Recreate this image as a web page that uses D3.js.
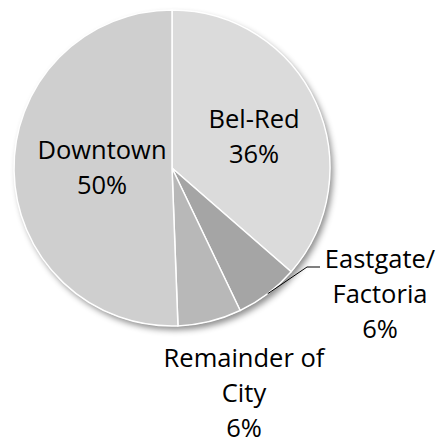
<!DOCTYPE html>
<html>
<head>
<meta charset="utf-8">
<script src="https://cdn.jsdelivr.net/npm/d3@7"></script>
<style>
  html, body { margin: 0; padding: 0; background: #fff; }
  svg { display: block; }
  text { font-family: "Open Sans", "Noto Sans", sans-serif; fill: #000; }
</style>
</head>
<body>
<div id="chart"></div>
<script>
// Data
const categories = ["Bel-Red", "Eastgate/Factoria", "Remainder of City", "Downtown"];
const shares = [36.4, 6.5, 6.5, 50.6];
const pctLabels = ["36%", "6%", "6%", "50%"];
const labelLines = [["Bel-Red"], ["Eastgate/", "Factoria"], ["Remainder of", "City"], ["Downtown"]];
const colors = ["#dbdbdb", "#a5a5a5", "#b8b8b8", "#cfcfcf"];

const width = 443, height = 444;
const cx = 172, cy = 168, radius = 158;
const fontSize = 25.5, lineH = 35;

const svg = d3.select("#chart").append("svg")
    .attr("width", width)
    .attr("height", height);

// soft drop shadow like the office chart
const defs = svg.append("defs");
const shadow = defs.append("filter")
    .attr("id", "shadow")
    .attr("x", "-20%").attr("y", "-20%")
    .attr("width", "140%").attr("height", "140%");
shadow.append("feDropShadow")
    .attr("dx", 3).attr("dy", 4)
    .attr("stdDeviation", 3)
    .attr("flood-color", "#000")
    .attr("flood-opacity", 0.45);

const pie = d3.pie().sort(null).value(d => d);
const arcs = pie(shares);

const arc = d3.arc().innerRadius(0).outerRadius(radius);
const rim = d3.arc().innerRadius(radius).outerRadius(radius);

const g = svg.append("g").attr("transform", `translate(${cx},${cy})`);

// shadow layer behind
g.append("circle")
    .attr("r", radius)
    .attr("fill", "#cfcfcf")
    .attr("filter", "url(#shadow)");

g.selectAll("path.slice")
    .data(arcs)
    .join("path")
    .attr("class", "slice")
    .attr("d", arc)
    .attr("fill", (d, i) => colors[i])
    .attr("stroke", "#fff")
    .attr("stroke-width", 1.5)
    .attr("stroke-linejoin", "round");

// label positions (centre of each text block, first baseline)
const labelPos = [
    { x: 254, y: 128 },
    { x: 380, y: 268 },
    { x: 244, y: 367 },
    { x: 102, y: 159 }
];

labelLines.forEach((lines, i) => {
    const all = lines.concat([pctLabels[i]]);
    const t = svg.append("text")
        .attr("text-anchor", "middle")
        .attr("font-size", fontSize);
    all.forEach((s, k) => {
        t.append("tspan")
            .attr("x", labelPos[i].x)
            .attr("y", labelPos[i].y + k * lineH)
            .text(s);
    });
});

// leader line for Eastgate/Factoria
const eg = arcs[1];
const [sx, sy] = rim.centroid(eg);
const ly = labelPos[1].y - 1;
const lxEnd = labelPos[1].x - 60;
svg.append("polyline")
    .attr("points", [
        [cx + sx, cy + sy],
        [lxEnd - 13, ly],
        [lxEnd, ly]
    ].map(p => p.join(",")).join(" "))
    .attr("fill", "none")
    .attr("stroke", "#000")
    .attr("stroke-width", 1);
</script>
</body>
</html>
